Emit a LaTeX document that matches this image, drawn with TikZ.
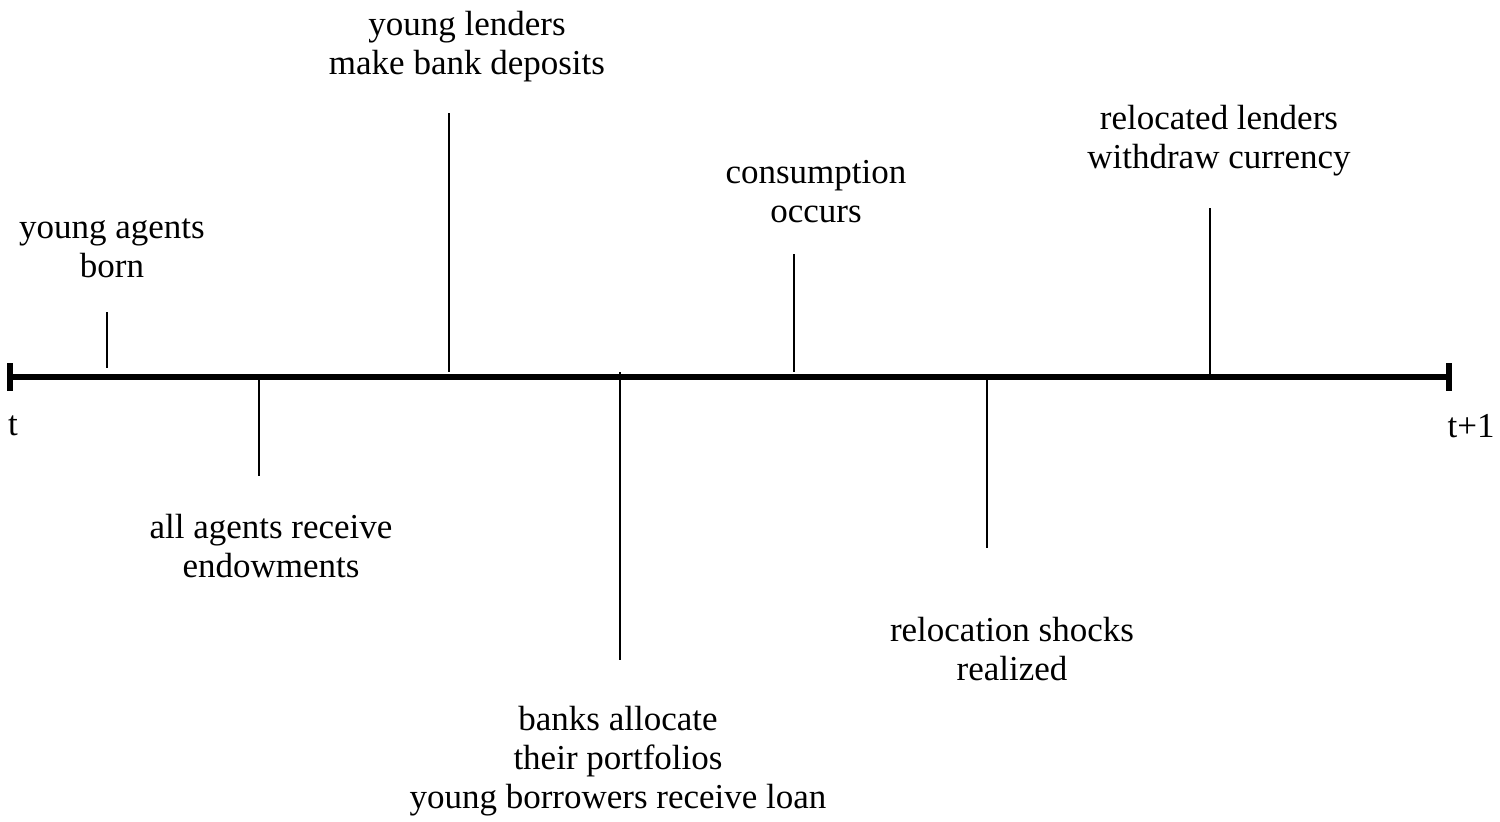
\documentclass[tikz,border=0pt]{standalone}
\usepackage{fontspec}
\setmainfont{Liberation Serif}
\begin{document}
\begin{tikzpicture}[x=0.5pt,y=-0.5pt,
  lbl/.style={align=center,inner sep=0pt,font=\fontsize{17.5}{19.5}\selectfont},
  tick/.style={line width=0.75pt},
  axis/.style={line width=2.6pt}]
\useasboundingbox (0,0) rectangle (1500,821);
% axis
\coordinate (s) at (10,377);
\coordinate (e) at (1449,377);
\draw[axis] (s) -- (e);
\draw[axis] (10,363) -- (10,391);
\draw[axis] (1449,363) -- (1449,391);
% ticks
\coordinate (a1) at (107,312); \coordinate (a2) at (107,368);
\coordinate (b1) at (259,380); \coordinate (b2) at (259,476);
\coordinate (c1) at (449,113); \coordinate (c2) at (449,372);
\coordinate (d1) at (620,372); \coordinate (d2) at (620,660);
\coordinate (f1) at (794,254); \coordinate (f2) at (794,372);
\coordinate (g1) at (987,380); \coordinate (g2) at (987,548);
\coordinate (h1) at (1210,208); \coordinate (h2) at (1210,380);
\draw[tick] (a1) -- (a2);
\draw[tick] (b1) -- (b2);
\draw[tick] (c1) -- (c2);
\draw[tick] (d1) -- (d2);
\draw[tick] (f1) -- (f2);
\draw[tick] (g1) -- (g2);
\draw[tick] (h1) -- (h2);
% labels
\node[lbl] (la) at (112,248) {young agents\\born};
\node[lbl] (lb) at (271,546) {all agents receive\\endowments};
\node[lbl] (lc) at (467,47) {young lenders\\make bank deposits};
\node[lbl] (ld) at (618,761) {banks allocate\\their portfolios\\young borrowers receive loan};
\node[lbl] (lf) at (816,192) {consumption\\occurs};
\node[lbl] (lg) at (1012,649) {relocation shocks\\realized};
\node[lbl] (lh) at (1219,141) {relocated lenders\\withdraw currency};
\node[lbl] (t0) at (13,426) {t};
\node[lbl] (t1) at (1471,426) {t+1};
\end{tikzpicture}
\end{document}
